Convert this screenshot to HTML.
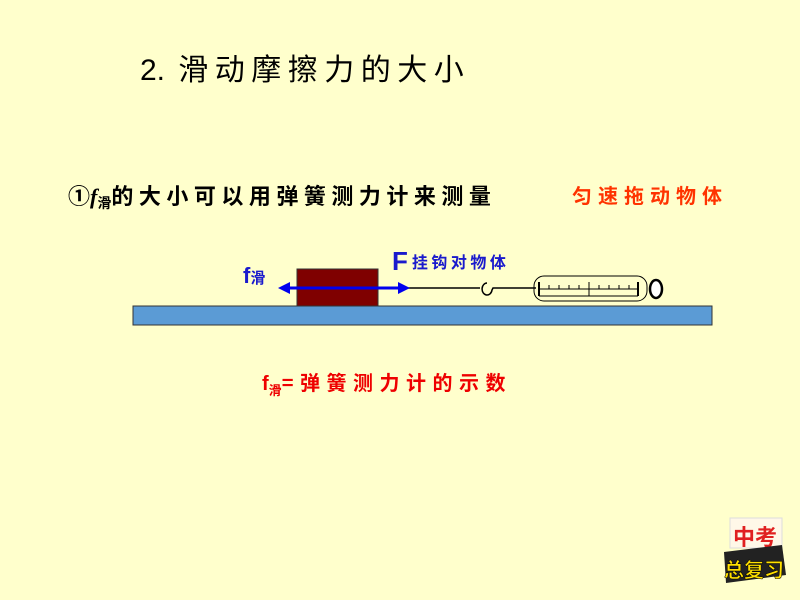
<!DOCTYPE html>
<html><head><meta charset="utf-8"><style>
html,body{margin:0;padding:0;background:#ffffcc;}
svg{display:block}
</style></head><body>
<svg width="800" height="600" xmlns="http://www.w3.org/2000/svg" font-family="Liberation Sans, Noto Sans CJK SC, sans-serif">
<rect width="800" height="600" fill="#ffffcc"/>
<text x="140" y="80" font-size="30" fill="#000">2.<tspan font-family="Noto Sans CJK SC, sans-serif" font-size="30" letter-spacing="6.5"> 滑动摩擦力的大小</tspan></text>
<text x="68" y="204" font-size="22" font-weight="bold" fill="#000">①<tspan font-family="Liberation Serif, serif" font-style="italic">f</tspan><tspan font-size="14" dy="4">滑</tspan><tspan dy="-4" font-family="Noto Sans CJK SC, sans-serif" letter-spacing="5.5">的大小可以用弹簧测力计来测量</tspan></text>
<text x="572" y="203" font-size="20" font-weight="bold" fill="#ff3300" font-family="Noto Sans CJK SC, sans-serif" letter-spacing="6">匀速拖动物体</text>
<rect x="133" y="306" width="579" height="19" fill="#5b9bd5" stroke="#333" stroke-width="1"/>
<rect x="297" y="269" width="81" height="37" fill="#7f0000" stroke="#333" stroke-width="1"/>
<line x1="405" y1="288" x2="480" y2="288" stroke="#000" stroke-width="1.5"/>
<path d="M487 283 A5 6 0 1 0 492 290 L493 288 L536 288" fill="none" stroke="#000" stroke-width="1.5"/>
<rect x="534" y="276" width="113" height="25" rx="10" fill="none" stroke="#000" stroke-width="1"/>
<line x1="539" y1="282" x2="539" y2="296" stroke="#000" stroke-width="2"/>
<line x1="638" y1="282" x2="638" y2="296" stroke="#000" stroke-width="2"/>
<line x1="539" y1="289" x2="638" y2="289" stroke="#000" stroke-width="1"/>
<line x1="539" y1="296" x2="638" y2="296" stroke="#000" stroke-width="1"/>
<g stroke="#000" stroke-width="1">
<line x1="549" y1="285" x2="549" y2="289"/><line x1="559" y1="285" x2="559" y2="289"/><line x1="569" y1="285" x2="569" y2="289"/><line x1="579" y1="285" x2="579" y2="289"/><line x1="589" y1="282" x2="589" y2="296"/><line x1="599" y1="285" x2="599" y2="289"/><line x1="609" y1="285" x2="609" y2="289"/><line x1="619" y1="285" x2="619" y2="289"/><line x1="629" y1="285" x2="629" y2="289"/>
</g>
<ellipse cx="656" cy="289" rx="6" ry="9" fill="#fff" stroke="#000" stroke-width="2.5"/>
<line x1="286" y1="288" x2="400" y2="288" stroke="#0000ee" stroke-width="3"/>
<polygon points="278,288 290,282 290,294" fill="#0000ee"/>
<polygon points="410,288 398,282 398,294" fill="#0000ee"/>
<text x="243" y="283" font-size="22" font-weight="bold" fill="#1a1acc">f<tspan font-size="15" font-family="Noto Sans CJK SC, sans-serif">滑</tspan></text>
<text x="392" y="270" font-size="26" font-weight="bold" fill="#1a1acc">F<tspan font-size="16" dx="4" font-family="Noto Sans CJK SC, sans-serif" dy="-2" letter-spacing="3.5">挂钩对物体</tspan></text>
<text x="262" y="390" font-size="20" font-weight="bold" fill="#ee0000">f<tspan font-size="13" dy="5">滑</tspan><tspan dy="-5" font-family="Noto Sans CJK SC, sans-serif" letter-spacing="6.5">=弹簧测力计的示数</tspan></text>
<g font-family="Noto Sans CJK SC, sans-serif" font-weight="bold">
<rect x="730" y="518" width="52" height="30" fill="#fff8e8" stroke="#ddd"/>
<text x="733" y="545" font-size="22" fill="#e02020">中考</text>
<polygon points="724,552 782,545 786,575 726,583" fill="#222"/>
<text x="724" y="577" font-size="20" fill="#ffe000" stroke="#000" stroke-width="0.5">总复习</text>
</g>
</svg>
</body></html>
